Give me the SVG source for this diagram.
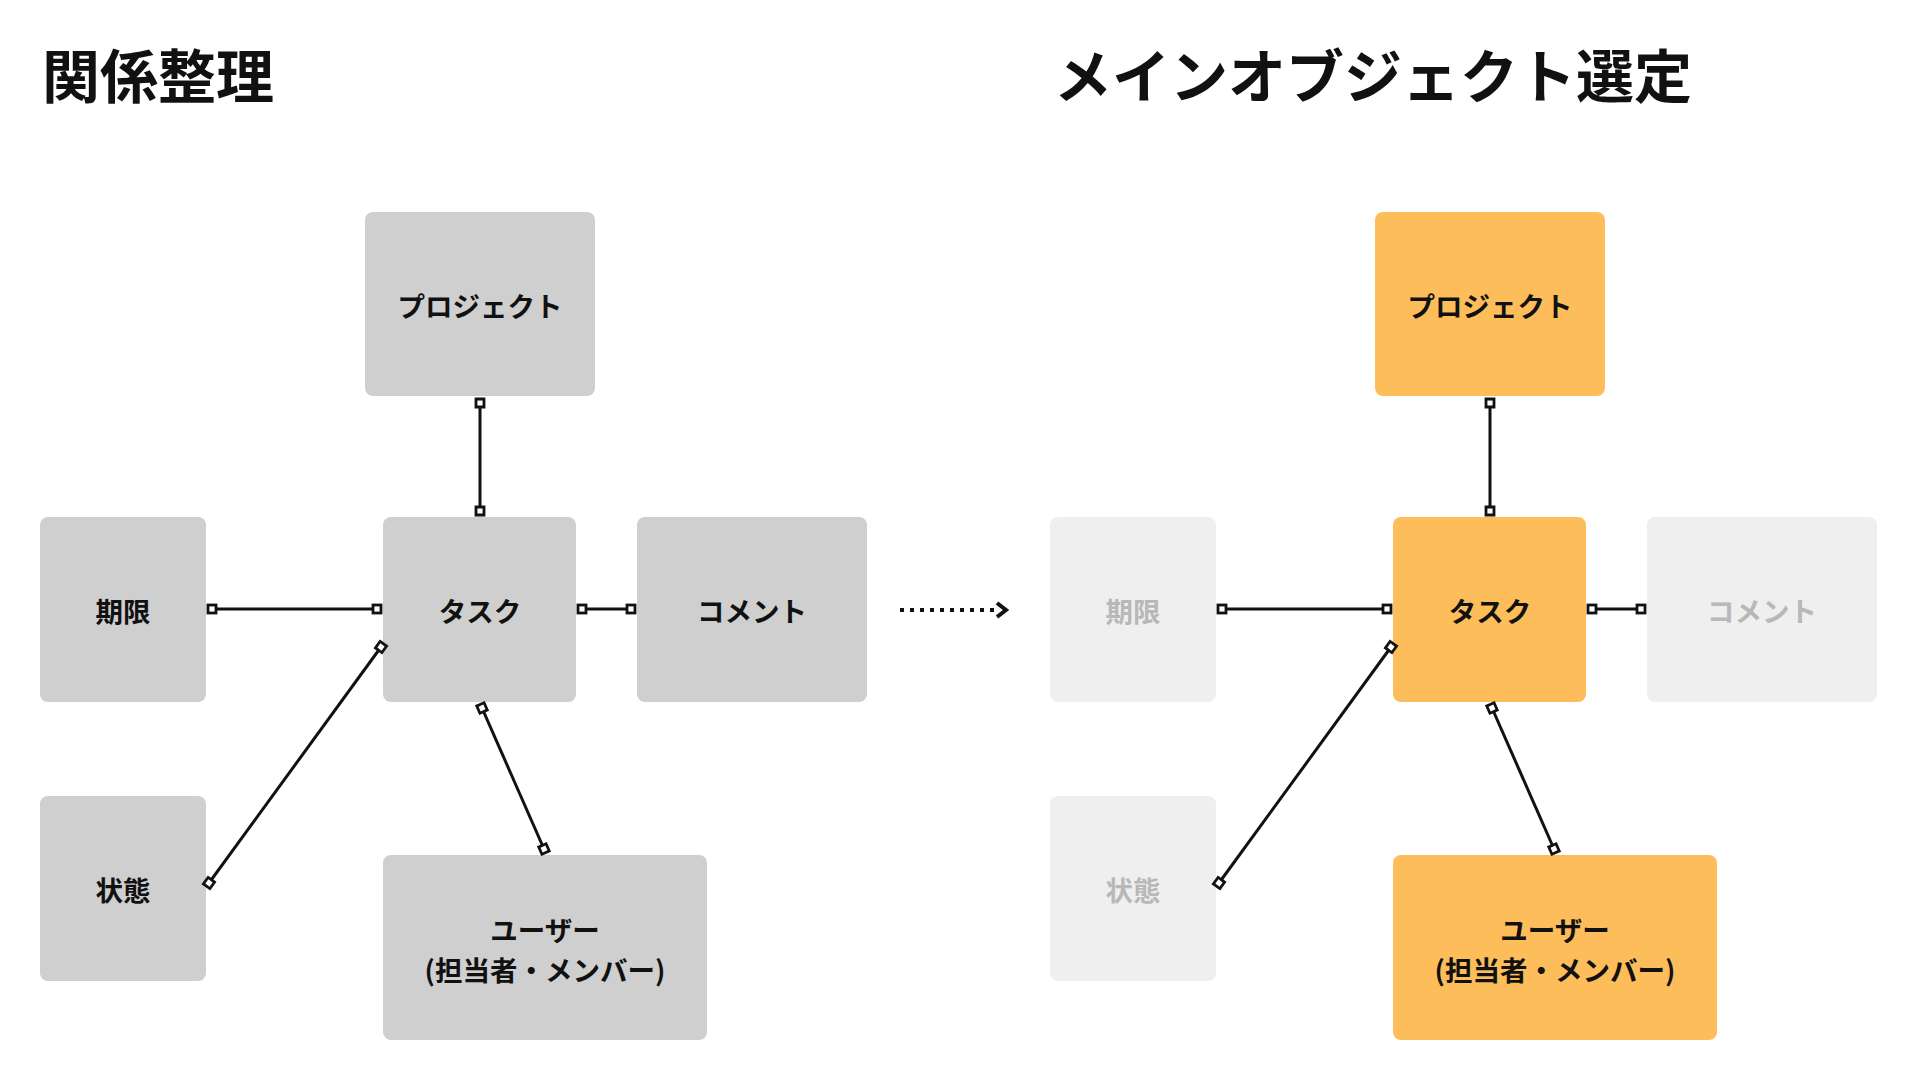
<svg xmlns="http://www.w3.org/2000/svg" width="1920" height="1080" viewBox="0 0 1920 1080">
<defs>
<style>
.title{font-family:"Noto Sans CJK JP","Noto Sans",sans-serif;font-weight:700;font-size:58px;fill:#111}
.lbl{font-family:"Noto Sans CJK JP","Noto Sans",sans-serif;font-weight:700;font-size:27.5px;fill:#111;text-anchor:middle;dominant-baseline:central}
.gray{fill:#cfcfcf}
.hi{fill:#fdbd5a}
.fade{fill:#efefef}
.fadetxt{fill:#b8b8b8}
.conn line{stroke:#111;stroke-width:3;fill:none;marker-start:url(#sq);marker-end:url(#sq)}
</style>
<marker id="sq" viewBox="0 0 14 14" refX="7" refY="7" markerWidth="14" markerHeight="14" markerUnits="userSpaceOnUse" orient="auto">
<rect x="3" y="3" width="8" height="8" fill="#fff" stroke="#111" stroke-width="2.8"/>
</marker>
</defs>
<rect width="1920" height="1080" fill="#fff"/>
<text class="title" x="42" y="98">関係整理</text>
<text class="title" x="1054" y="98">メインオブジェクト選定</text>

<g id="L-project"><rect class="gray" x="365" y="212" width="230" height="184" rx="8"/><text class="lbl" x="480" y="305">プロジェクト</text></g>
<g id="L-kigen"><rect class="gray" x="40" y="517" width="166" height="185" rx="8"/><text class="lbl" x="123" y="610">期限</text></g>
<g id="L-task"><rect class="gray" x="383" y="517" width="193" height="185" rx="8"/><text class="lbl" x="480" y="610">タスク</text></g>
<g id="L-comment"><rect class="gray" x="637" y="517" width="230" height="185" rx="8"/><text class="lbl" x="752" y="610">コメント</text></g>
<g id="L-jotai"><rect class="gray" x="40" y="796" width="166" height="185" rx="8"/><text class="lbl" x="123" y="889">状態</text></g>
<g id="L-user"><rect class="gray" x="383" y="855" width="324" height="185" rx="8"/><text class="lbl" x="545" y="929">ユーザー</text><text class="lbl" x="545" y="969">(担当者・メンバー)</text></g>

<g id="R-project"><rect class="hi" x="1375" y="212" width="230" height="184" rx="8"/><text class="lbl" x="1490" y="305">プロジェクト</text></g>
<g id="R-kigen"><rect class="fade" x="1050" y="517" width="166" height="185" rx="8"/><text class="lbl fadetxt" x="1133" y="610">期限</text></g>
<g id="R-task"><rect class="hi" x="1393" y="517" width="193" height="185" rx="8"/><text class="lbl" x="1490" y="610">タスク</text></g>
<g id="R-comment"><rect class="fade" x="1647" y="517" width="230" height="185" rx="8"/><text class="lbl fadetxt" x="1762" y="610">コメント</text></g>
<g id="R-jotai"><rect class="fade" x="1050" y="796" width="166" height="185" rx="8"/><text class="lbl fadetxt" x="1133" y="889">状態</text></g>
<g id="R-user"><rect class="hi" x="1393" y="855" width="324" height="185" rx="8"/><text class="lbl" x="1555" y="929">ユーザー</text><text class="lbl" x="1555" y="969">(担当者・メンバー)</text></g>

<g id="connectors" class="conn">
<line x1="480" y1="403" x2="480" y2="511"/>
<line x1="212" y1="609" x2="377" y2="609"/>
<line x1="582" y1="609" x2="631" y2="609"/>
<line x1="209" y1="883" x2="381" y2="647"/>
<line x1="482" y1="708" x2="544" y2="849"/>
<line x1="1490" y1="403" x2="1490" y2="511"/>
<line x1="1222" y1="609" x2="1387" y2="609"/>
<line x1="1592" y1="609" x2="1641" y2="609"/>
<line x1="1219" y1="883" x2="1391" y2="647"/>
<line x1="1492" y1="708" x2="1554" y2="849"/>
<g id="transition-arrow">
<line x1="900" y1="610" x2="996" y2="610" style="marker-start:none;marker-end:none;stroke-dasharray:4 6;stroke-width:4"/>
<polyline points="997,603 1006,610 997,617" style="fill:none;stroke:#111;stroke-width:4"/>
</g>
</g>
</svg>
